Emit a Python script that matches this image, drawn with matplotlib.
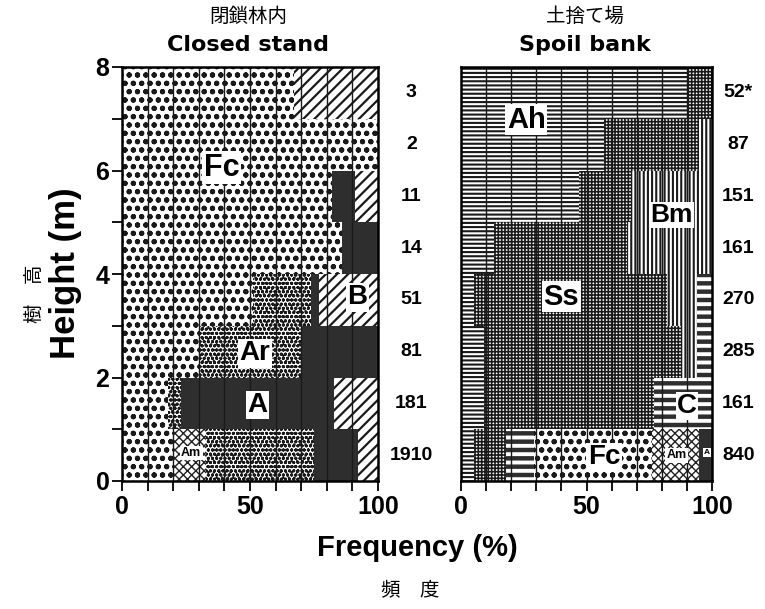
import matplotlib
matplotlib.use("Agg")
import matplotlib.pyplot as plt
import numpy as np

# ---------------- data ----------------
height_lower = [0, 1, 2, 3, 4, 5, 6, 7]          # lower bound of each height class (m)

# Closed stand (閉鎖林内) – frequency (%) per height class
closed_Fc = [20, 18, 30, 51, 86, 82, 100, 67]
closed_Am = [13, 0, 0, 0, 0, 0, 0, 0]
closed_Ar = [42, 5, 40, 23, 0, 0, 0, 0]
closed_A = [17, 60, 30, 3, 14, 9, 0, 0]
closed_B = [8, 17, 0, 23, 0, 9, 0, 33]
closed_n = ["1910", "181", "81", "51", "14", "11", "2", "3"]

# Spoil bank (土捨て場)
spoil_Ah = [5, 9, 9, 5, 13, 47, 57, 90]
spoil_Ss = [13, 68, 79, 77, 53, 21, 38, 10]
spoil_Bm = [0, 0, 6, 12, 34, 32, 5, 0]
spoil_C = [11, 23, 6, 6, 0, 0, 0, 0]
spoil_Fc = [47, 0, 0, 0, 0, 0, 0, 0]
spoil_Am = [19, 0, 0, 0, 0, 0, 0, 0]
spoil_A = [5, 0, 0, 0, 0, 0, 0, 0]
spoil_n = ["840", "161", "285", "270", "161", "151", "87", "52*"]

xticks = [0, 10, 20, 30, 40, 50, 60, 70, 80, 90, 100]
xticklabels = ["0", "", "", "", "", "50", "", "", "", "", "100"]
yticks = [0, 1, 2, 3, 4, 5, 6, 7, 8]
yticklabels = ["0", "", "2", "", "4", "", "6", "", "8"]

# ---------------- styles ----------------
DARK = "#2e2e2e"
styles = {
    # name: (facecolor, hatchcolor, hatch, hatch linewidth)
    "Fc": ("white", "#1a1a1a", "oo..", 1.4),
    "Am": ("white", "#222222", "xxxx", 1.0),
    "Ar": ("white", "#1a1a1a", "oooo...", 1.0),
    "A": (DARK, DARK, None, 1.0),
    "B": ("white", "#1a1a1a", "///", 1.6),
    "Ah": ("white", "#1a1a1a", "----", 1.5),
    "Ss": ("white", "#1a1a1a", "+++++", 1.15),
    "Bm": ("white", "#1a1a1a", "||||", 1.5),
    "C": (DARK, "white", "--", 2.8),
}

FONT = ["Liberation Sans", "DejaVu Sans"]
JFONT = ["Noto Sans CJK JP", "DejaVu Sans"]

fig = plt.figure(figsize=(7.65, 6.09), dpi=100)
W, H = 765, 609


def px_axes(x0, x1, y0, y1):
    return fig.add_axes([x0 / W, 1 - y1 / H, (x1 - x0) / W, (y1 - y0) / H])


ax1 = px_axes(122, 378, 67, 481)
ax2 = px_axes(461, 712, 67, 481)


def draw(ax, series):
    left = np.zeros(len(height_lower))
    ycent = np.array(height_lower) + 0.5
    for name, vals in series:
        fc, hc, hatch, hlw = styles[name]
        vals = np.asarray(vals, float)
        with plt.rc_context({"hatch.linewidth": hlw}):
            bars = ax.barh(ycent, vals, left=left, height=1.0, color=fc,
                           edgecolor=hc, hatch=hatch, linewidth=0, zorder=1)
        for b in bars:
            if hasattr(b, "set_hatch_linewidth"):
                b.set_hatch_linewidth(hlw)
        left += vals


draw(ax1, [("Fc", closed_Fc), ("Am", closed_Am), ("Ar", closed_Ar),
           ("A", closed_A), ("B", closed_B)])
draw(ax2, [("Ah", spoil_Ah), ("Ss", spoil_Ss), ("Bm", spoil_Bm), ("C", spoil_C),
           ("Fc", spoil_Fc), ("Am", spoil_Am), ("A", spoil_A)])

for ax in (ax1, ax2):
    ax.set_xlim(0, 100)
    ax.set_ylim(0, 8)
    for x in xticks[1:-1]:
        ax.axvline(x, color="#1a1a1a", lw=1.0, zorder=2)
    for s in ax.spines.values():
        s.set_linewidth(1.8)
        s.set_zorder(5)
    ax.set_xticks(xticks)
    ax.set_xticklabels(xticklabels, fontfamily=FONT, fontweight="bold", fontsize=18)
    ax.tick_params(axis="x", direction="out", length=7, width=1.3, pad=3)

ax1.set_yticks(yticks)
ax1.set_yticklabels(yticklabels, fontfamily=FONT, fontweight="bold", fontsize=18)
ax1.tick_params(axis="y", direction="out", length=7, width=1.3, pad=2)
ax2.set_yticks([])

# counts
for i, n in enumerate(closed_n):
    ax1.text(113, height_lower[i] + 0.5, n, ha="center", va="center", fontsize=14,
             fontweight="bold", fontfamily=FONT, clip_on=False)
for i, n in enumerate(spoil_n):
    ax2.text(110.5, height_lower[i] + 0.5, n, ha="center", va="center", fontsize=14,
             fontweight="bold", fontfamily=FONT, clip_on=False)


def label(ax, x, y, s, size):
    ax.text(x, y, s, ha="center", va="center", fontsize=size, fontweight="bold",
            fontfamily=FONT, zorder=6,
            bbox=dict(facecolor="white", edgecolor="none", pad=1.0))


label(ax1, 39, 6.05, "Fc", 22)
label(ax1, 92, 3.55, "B", 20)
label(ax1, 52, 2.47, "Ar", 20)
label(ax1, 53, 1.47, "A", 20)
label(ax1, 27, 0.54, "Am", 9)

label(ax2, 26, 6.98, "Ah", 21)
label(ax2, 84, 5.14, "Bm", 19)
label(ax2, 40, 3.56, "Ss", 21)
label(ax2, 90, 1.45, "C", 20)
label(ax2, 57, 0.46, "Fc", 20)
label(ax2, 86, 0.5, "Am", 9)
label(ax2, 98, 0.55, "A", 6)

# titles
fig.text(248 / W, 1 - 16 / H, "閉鎖林内", ha="center", va="center", fontsize=14,
         fontfamily=JFONT)
fig.text(248 / W, 1 - 45 / H, "Closed stand", ha="center", va="center", fontsize=16,
         fontweight="bold", fontfamily=["DejaVu Sans"])
fig.text(585 / W, 1 - 16 / H, "土捨て場", ha="center", va="center", fontsize=14,
         fontfamily=JFONT)
fig.text(585 / W, 1 - 45 / H, "Spoil bank", ha="center", va="center", fontsize=16,
         fontweight="bold", fontfamily=["DejaVu Sans"])

# axis labels
fig.text(417 / W, 1 - 548 / H, "Frequency (%)", ha="center", va="center", fontsize=21,
         fontweight="bold", fontfamily=FONT)
fig.text(410 / W, 1 - 591 / H, "頻\u3000度", ha="center", va="center", fontsize=14,
         fontfamily=JFONT)
fig.text(66 / W, 1 - 273 / H, "Height (m)", ha="center", va="center", fontsize=25,
         fontweight="bold", fontfamily=FONT, rotation=90)
fig.text(34 / W, 1 - 294 / H, "樹\u3000高", ha="center", va="center", fontsize=14,
         fontfamily=JFONT, rotation=90)

fig.savefig("out.png", dpi=100)
